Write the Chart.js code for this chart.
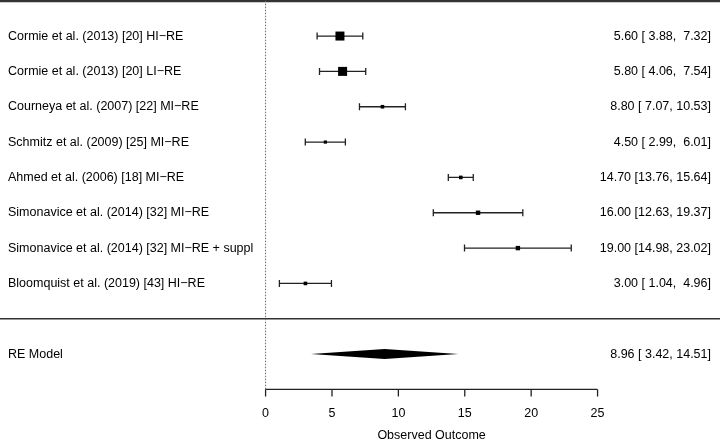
<!DOCTYPE html>
<html>
<head>
<meta charset="utf-8">
<script src="https://cdn.jsdelivr.net/npm/chart.js@4/dist/chart.umd.min.js"></script>
<style>
  body { margin: 0; background: #fff; }
  #wrap { width: 720px; height: 440px; }
</style>
</head>
<body>
<div id="wrap"><canvas id="forest" width="720" height="440"></canvas></div>
<script>
const studies = [
  "Cormie et al. (2013) [20] HI\u2212RE",
  "Cormie et al. (2013) [20] LI\u2212RE",
  "Courneya et al. (2007) [22] MI\u2212RE",
  "Schmitz et al. (2009) [25] MI\u2212RE",
  "Ahmed et al. (2006) [18] MI\u2212RE",
  "Simonavice et al. (2014) [32] MI\u2212RE",
  "Simonavice et al. (2014) [32] MI\u2212RE + suppl",
  "Bloomquist et al. (2019) [43] HI\u2212RE"
];
const estimates = [5.60, 5.80, 8.80, 4.50, 14.70, 16.00, 19.00, 3.00];
const lowerCI = [3.88, 4.06, 7.07, 2.99, 13.76, 12.63, 14.98, 1.04];
const upperCI = [7.32, 7.54, 10.53, 6.01, 15.64, 19.37, 23.02, 4.96];
const rows = [8, 7, 6, 5, 4, 3, 2, 1];

const modelLabel = "RE Model";
const modelEst = 8.96;
const modelLower = 3.42;
const modelUpper = 14.51;
const modelRow = -1;

const xTicks = [0, 5, 10, 15, 20, 25];
const xTitle = "Observed Outcome";

// box half-sizes (px), roughly following study weights in the picture
const boxSizes = [4.5, 4.5, 1.8, 1.6, 1.8, 2.2, 2.2, 1.8];

const FONT = '12.5px "Liberation Sans", Arial, sans-serif';
const fmt = v => v.toFixed(2);
const ciText = (e, l, u) => fmt(e) + " [" + fmt(l).padStart(5, " ") + ", " + fmt(u).padStart(5, " ") + "]";

const forestPlugin = {
  id: "forest",
  beforeDatasetsDraw(chart) {
    const ctx = chart.ctx;
    const xs = chart.scales.x, ys = chart.scales.y;
    const W = chart.width;
    ctx.save();

    // top and separator lines
    ctx.strokeStyle = "#333";
    [[9, 3], [0, 1.6]].forEach(([r, w]) => {
      const y = ys.getPixelForValue(r);
      ctx.lineWidth = w;
      ctx.beginPath(); ctx.moveTo(0, y); ctx.lineTo(W, y); ctx.stroke();
    });

    // reference line at 0
    const x0 = xs.getPixelForValue(0);
    ctx.strokeStyle = "#666";
    ctx.lineWidth = 1;
    ctx.setLineDash([1.5, 1.5]);
    ctx.beginPath();
    ctx.moveTo(x0, ys.getPixelForValue(9));
    ctx.lineTo(x0, ys.getPixelForValue(-2));
    ctx.stroke();
    ctx.setLineDash([]);

    // error bars
    ctx.strokeStyle = "#222";
    ctx.lineWidth = 1.3;
    estimates.forEach((e, i) => {
      const y = ys.getPixelForValue(rows[i]);
      const a = xs.getPixelForValue(lowerCI[i]), b = xs.getPixelForValue(upperCI[i]);
      ctx.beginPath();
      ctx.moveTo(a, y); ctx.lineTo(b, y);
      ctx.moveTo(a, y - 3.5); ctx.lineTo(a, y + 3.5);
      ctx.moveTo(b, y - 3.5); ctx.lineTo(b, y + 3.5);
      ctx.stroke();
    });

    // summary diamond
    const my = ys.getPixelForValue(modelRow);
    ctx.fillStyle = "#000";
    ctx.beginPath();
    ctx.moveTo(xs.getPixelForValue(modelLower), my);
    ctx.lineTo(xs.getPixelForValue(modelEst), my - 5);
    ctx.lineTo(xs.getPixelForValue(modelUpper), my);
    ctx.lineTo(xs.getPixelForValue(modelEst), my + 5);
    ctx.closePath();
    ctx.fill();

    // x axis
    const ay = ys.getPixelForValue(-2);
    ctx.strokeStyle = "#222";
    ctx.lineWidth = 1.3;
    ctx.beginPath();
    ctx.moveTo(xs.getPixelForValue(xTicks[0]), ay);
    ctx.lineTo(xs.getPixelForValue(xTicks[xTicks.length - 1]), ay);
    xTicks.forEach(t => {
      const x = xs.getPixelForValue(t);
      ctx.moveTo(x, ay); ctx.lineTo(x, ay + 7);
    });
    ctx.stroke();

    // texts
    ctx.fillStyle = "#000";
    ctx.font = FONT;
    ctx.textBaseline = "middle";
    ctx.textAlign = "center";
    xTicks.forEach(t => ctx.fillText(String(t), xs.getPixelForValue(t), ay + 24));
    ctx.fillText(xTitle, (xs.getPixelForValue(xTicks[0]) + xs.getPixelForValue(xTicks[xTicks.length - 1])) / 2, ay + 46);

    ctx.textAlign = "left";
    studies.forEach((s, i) => ctx.fillText(s, 8, ys.getPixelForValue(rows[i])));
    ctx.fillText(modelLabel, 8, my);

    ctx.textAlign = "right";
    estimates.forEach((e, i) => ctx.fillText(ciText(e, lowerCI[i], upperCI[i]), 711, ys.getPixelForValue(rows[i])));
    ctx.fillText(ciText(modelEst, modelLower, modelUpper), 711, my);

    ctx.restore();
  }
};

new Chart(document.getElementById("forest"), {
  type: "scatter",
  data: {
    datasets: [{
      data: estimates.map((e, i) => ({ x: e, y: rows[i] })),
      pointStyle: "rect",
      pointRadius: boxSizes.map(s => s * Math.SQRT2),
      backgroundColor: "#000",
      borderWidth: 0
    }]
  },
  options: {
    responsive: false,
    animation: false,
    layout: { padding: 0, autoPadding: false },
    plugins: { legend: { display: false }, tooltip: { enabled: false } },
    scales: {
      x: { type: "linear", min: -20, max: 34.22, display: false },
      y: { type: "linear", min: -3.43, max: 9.02, display: false }
    }
  },
  plugins: [forestPlugin]
});
</script>
</body>
</html>
